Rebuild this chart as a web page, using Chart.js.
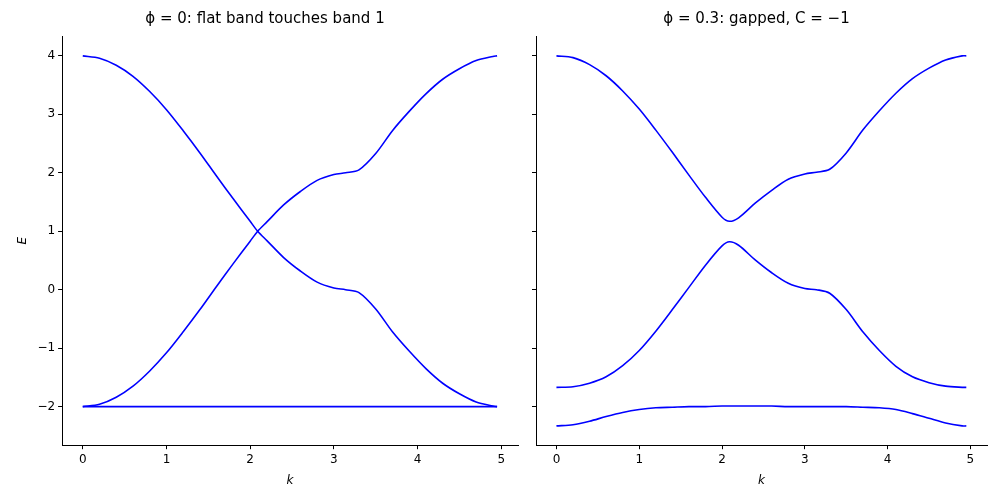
<!DOCTYPE html>
<html>
<head>
<meta charset="utf-8">
<script src="https://cdn.jsdelivr.net/npm/chart.js@4"></script>
<style>
  body { margin: 0; background: #fff; }
  .box { position: absolute; top: 0; height: 500px; }
</style>
</head>
<body>
<div class="box" style="left:0;width:522px"><canvas id="left"></canvas></div>
<div class="box" style="left:522px;width:478px"><canvas id="right"></canvas></div>
<script>
// k path samples (Γ -> K -> M -> Γ)
const kVals = [0,0.2,0.4,0.6,0.8,1.0,1.2,1.4,1.6,1.8,2.0,2.09,2.2,2.4,2.6,2.8,3.0,3.14,3.3,3.5,3.7,3.9,4.1,4.3,4.5,4.7,4.9,4.95];
const xTicks = [0,1,2,3,4,5];
const yTicks = [-2,-1,0,1,2,3,4];

// phi = 0
const leftBandA = [4,3.96,3.84,3.65,3.39,3.08,2.72,2.34,1.94,1.55,1.17,1,0.84,0.55,0.32,0.13,0.03,0,-0.05,-0.33,-0.72,-1.05,-1.35,-1.6,-1.78,-1.92,-1.99,-2];
const leftBandB = [-2,-1.96,-1.84,-1.65,-1.39,-1.08,-0.72,-0.34,0.06,0.45,0.83,1,1.16,1.45,1.68,1.87,1.97,2,2.05,2.33,2.72,3.05,3.35,3.6,3.78,3.92,3.99,4];
const leftFlat  = [-2,-2,-2,-2,-2,-2,-2,-2,-2,-2,-2,-2,-2,-2,-2,-2,-2,-2,-2,-2,-2,-2,-2,-2,-2,-2,-2,-2];

// phi = 0.3
const rightTop = [4,3.97,3.85,3.66,3.4,3.09,2.73,2.35,1.96,1.58,1.24,1.17,1.23,1.48,1.7,1.89,1.98,2.01,2.06,2.34,2.73,3.06,3.36,3.61,3.79,3.93,4,4];
const rightMid = [-1.67,-1.66,-1.6,-1.49,-1.3,-1.04,-0.71,-0.34,0.04,0.42,0.75,0.82,0.76,0.51,0.29,0.11,0.02,0,-0.06,-0.34,-0.72,-1.04,-1.31,-1.49,-1.59,-1.65,-1.67,-1.67];
const rightBot = [-2.33,-2.31,-2.25,-2.17,-2.1,-2.05,-2.02,-2.01,-2,-2,-1.99,-1.99,-1.99,-1.99,-1.99,-2,-2,-2,-2,-2,-2.01,-2.02,-2.05,-2.12,-2.2,-2.28,-2.33,-2.33];

const titles = ["\u03d5 = 0: flat band touches band 1", "\u03d5 = 0.3: gapped, C = \u22121"];
const fmt = v => String(v).replace('-', '\u2212');
const font = { family: 'DejaVu Sans', size: 12 };

function ds(arr) {
  return {
    data: kVals.map((k, i) => ({ x: k, y: arr[i] })),
    borderColor: '#0000ff', borderWidth: 1.6, pointRadius: 0,
    fill: false, tension: 0.3
  };
}

function makeChart(id, title, series, showY) {
  return new Chart(document.getElementById(id), {
    type: 'line',
    data: { datasets: series.map(ds) },
    options: {
      responsive: true, maintainAspectRatio: false, animation: false,
      layout: { padding: { left: showY ? 12 : 4, right: showY ? 4 : 13, top: 4, bottom: 8 } },
      plugins: {
        legend: { display: false },
        title: { display: true, text: title, color: '#000', font: { family: 'DejaVu Sans', size: 15, weight: 'normal' }, padding: { top: 6, bottom: 8 } }
      },
      scales: {
        x: {
          type: 'linear', min: -0.247, max: 5.2,
          afterBuildTicks: ax => { ax.ticks = xTicks.map(v => ({ value: v })); },
          ticks: { callback: fmt, color: '#000', font, autoSkip: false, maxRotation: 0 },
          grid: { drawOnChartArea: false, tickLength: 4, color: '#000' },
          border: { color: '#000' },
          title: { display: true, text: 'k', color: '#000', font: { family: 'DejaVu Sans', size: 12, style: 'italic' } }
        },
        y: {
          min: -2.66, max: 4.34,
          afterBuildTicks: ax => { ax.ticks = yTicks.map(v => ({ value: v })); },
          ticks: { callback: v => showY ? fmt(v) : '', color: '#000', font, autoSkip: false },
          grid: { drawOnChartArea: false, tickLength: 4, color: '#000' },
          border: { color: '#000' },
          title: { display: showY, text: 'E', color: '#000', font: { family: 'DejaVu Sans', size: 12, style: 'italic' } }
        }
      }
    }
  });
}

makeChart('left', titles[0], [leftBandA, leftBandB, leftFlat], true);
makeChart('right', titles[1], [rightTop, rightMid, rightBot], false);
</script>
</body>
</html>
